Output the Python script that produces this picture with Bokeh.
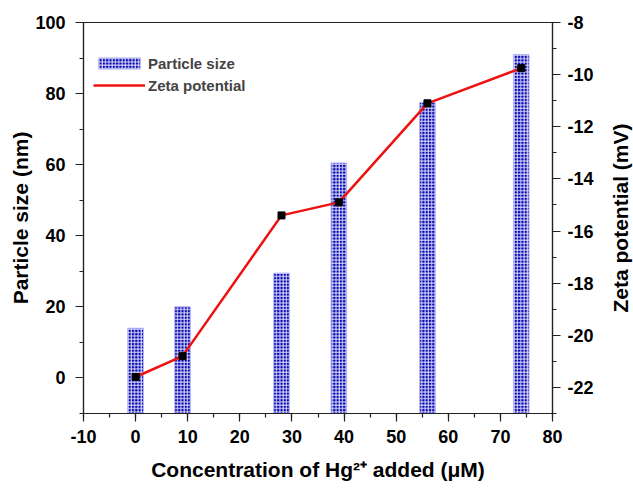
import math
from bokeh.plotting import figure
from bokeh.layouts import row
from bokeh.models import Range1d, LinearAxis, SingleIntervalTicker, Legend, LegendItem, PrintfTickFormatter
from bokeh.core.properties import value
from bokeh.embed import file_html
from bokeh.resources import INLINE

conc = [0, 9, 28, 39, 56, 74]
particle_size = [14, 20, 29.5, 60.5, 77.5, 91]
zeta = [-21.6, -20.8, -15.4, -14.9, -11.1, -9.75]
right_label = ["Zeta potential (mV)"]

FONT = "Liberation Sans"

p = figure(width=606, height=490, output_backend="svg", toolbar_location=None,
           x_range=Range1d(-10, 80), y_range=Range1d(-10, 100),
           min_border_left=83, min_border_right=54, min_border_top=22, min_border_bottom=77)
p.extra_y_ranges = {"zeta": Range1d(-23, -8)}
p.grid.visible = False
p.outline_line_color = "#222222"
p.outline_line_width = 1.2
p.background_fill_color = "white"
p.border_fill_color = "white"

bars = p.vbar(x=conc, top=particle_size, bottom=-10, width=3,
              fill_color="#0000b4", line_color="#b8b8ff", line_width=1,
              hatch_pattern="+", hatch_color="white", hatch_scale=3.3, hatch_weight=1, hatch_alpha=0.9)
ln = p.line(conc, zeta, y_range_name="zeta", line_color="#ee1111", line_width=2.5)
mk = p.scatter(conc, zeta, y_range_name="zeta", marker="square", size=7, fill_color="black", line_color="black")

raxis = LinearAxis(y_range_name="zeta",
                   ticker=SingleIntervalTicker(interval=2, num_minor_ticks=2))
p.add_layout(raxis, "right")

p.xaxis.ticker = SingleIntervalTicker(interval=10, num_minor_ticks=2)
p.yaxis[0].ticker = SingleIntervalTicker(interval=20, num_minor_ticks=2)
p.xaxis.axis_label = "Concentration of Hg\u00b2\u207a added (\u03bcM)"
p.yaxis[0].axis_label = "Particle size (nm)"

for ax in [p.xaxis[0], p.yaxis[0], raxis]:
    ax.formatter = PrintfTickFormatter(format="%d")
    ax.axis_line_color = "#222222"
    ax.axis_line_width = 1.2
    ax.major_tick_line_color = "#222222"
    ax.minor_tick_line_color = "#222222"
    ax.major_tick_line_width = 1.2
    ax.minor_tick_line_width = 1.2
    ax.major_tick_in = 0
    ax.major_tick_out = 8
    ax.minor_tick_in = 0
    ax.minor_tick_out = 4
    ax.major_label_text_font = FONT
    ax.major_label_text_font_style = "bold"
    ax.major_label_text_font_size = "18px"
    ax.major_label_text_color = "black"
    ax.axis_label_text_font = FONT
    ax.axis_label_text_font_style = "bold"
    ax.axis_label_text_font_size = "21px"
    ax.axis_label_text_color = "black"

p.xaxis[0].major_label_standoff = 8
p.xaxis[0].axis_label_standoff = 12
p.yaxis[0].major_label_standoff = 10
p.yaxis[0].axis_label_standoff = 0
raxis.major_label_standoff = 7

legend = Legend(items=[LegendItem(label="Particle size", renderers=[bars]),
                       LegendItem(label="Zeta potential", renderers=[ln])],
                location=(10, 319), glyph_width=52, glyph_height=14, label_height=18,
                label_standoff=3, spacing=4, padding=0, margin=0, border_line_color=None,
                background_fill_alpha=0,
                label_text_font=FONT, label_text_font_style="bold", label_text_font_size="15px")
p.add_layout(legend, "center")

# narrow side panel holding the right axis title, reading bottom-to-top
p2 = figure(width=27, height=490, output_backend="svg", toolbar_location=None,
            x_range=Range1d(-1, 1), y_range=Range1d(-1, 1),
            min_border_left=0, min_border_right=0, min_border_top=22, min_border_bottom=77)
p2.axis.visible = False
p2.grid.visible = False
p2.outline_line_color = None
p2.background_fill_color = "white"
p2.border_fill_color = "white"
p2.text(x=[0], y=[0], text=right_label, angle=math.pi / 2,
        text_align="center", text_baseline="middle",
        text_font=value(FONT), text_font_style="bold", text_font_size="21px", text_color="black")

layout = row(p, p2, spacing=0)
open("out.html", "w").write(file_html(layout, INLINE))
